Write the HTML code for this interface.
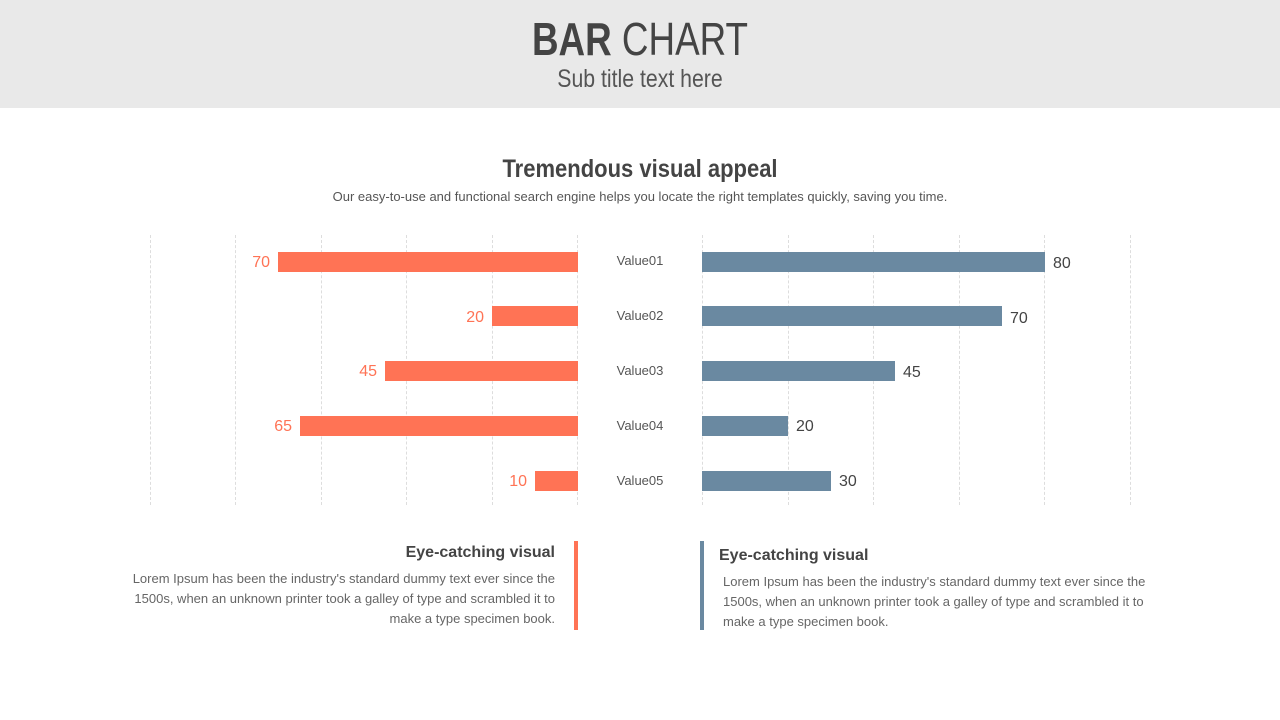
<!DOCTYPE html>
<html><head><meta charset="utf-8"><style>
body{margin:0;width:1280px;height:720px;position:relative;background:#fff;font-family:"Liberation Sans",sans-serif;overflow:hidden;color:#444}
.hdr{position:absolute;left:0;top:0;width:1280px;height:108px;background:#e9e9e9}
.t{position:absolute;width:100%;text-align:center}
.g{position:absolute;top:235px;height:270px;border-left:1px dashed #ddd}
.b{position:absolute;height:20px}
.o{background:#ff7355}.s{background:#6a89a1}
.n{position:absolute;font-size:16px;line-height:20px}
.l{position:absolute;left:590px;width:100px;text-align:center;font-size:13px;color:#555;line-height:20px}
.p{position:absolute;font-size:13px;line-height:20px;color:#666}
</style></head><body>
<div class="hdr"></div>
<div class="t" style="top:12px;font-size:46px;color:#444;transform:scaleX(0.8)"><b>BAR</b> CHART</div>
<div class="t" style="top:65px;font-size:25px;color:#555;transform:scaleX(0.85)">Sub title text here</div>
<div class="t" style="top:155px;font-size:25px;font-weight:bold;color:#444;transform:scaleX(0.88)">Tremendous visual appeal</div>
<div class="t" style="top:189px;font-size:13px;color:#555">Our easy-to-use and functional search engine helps you locate the right templates quickly, saving you time.</div>
<div class="g" style="left:150px"></div><div class="g" style="left:235px"></div><div class="g" style="left:321px"></div><div class="g" style="left:406px"></div><div class="g" style="left:492px"></div><div class="g" style="left:577px"></div>
<div class="g" style="left:702px"></div><div class="g" style="left:788px"></div><div class="g" style="left:873px"></div><div class="g" style="left:959px"></div><div class="g" style="left:1044px"></div><div class="g" style="left:1130px"></div>
<div class="b o" style="left:278px;width:300px;top:252px"></div><div class="n" style="right:1010px;top:253px;color:#ff7355">70</div>
<div class="b o" style="left:492px;width:86px;top:306px"></div><div class="n" style="right:796px;top:308px;color:#ff7355">20</div>
<div class="b o" style="left:385px;width:193px;top:361px"></div><div class="n" style="right:903px;top:362px;color:#ff7355">45</div>
<div class="b o" style="left:300px;width:278px;top:416px"></div><div class="n" style="right:988px;top:417px;color:#ff7355">65</div>
<div class="b o" style="left:535px;width:43px;top:471px"></div><div class="n" style="right:753px;top:472px;color:#ff7355">10</div>
<div class="b s" style="left:702px;width:343px;top:252px"></div><div class="n" style="left:1053px;top:254px">80</div>
<div class="b s" style="left:702px;width:300px;top:306px"></div><div class="n" style="left:1010px;top:309px">70</div>
<div class="b s" style="left:702px;width:193px;top:361px"></div><div class="n" style="left:903px;top:363px">45</div>
<div class="b s" style="left:702px;width:86px;top:416px"></div><div class="n" style="left:796px;top:417px">20</div>
<div class="b s" style="left:702px;width:129px;top:471px"></div><div class="n" style="left:839px;top:472px">30</div>
<div class="l" style="top:251px">Value01</div><div class="l" style="top:306px">Value02</div><div class="l" style="top:361px">Value03</div><div class="l" style="top:416px">Value04</div><div class="l" style="top:471px">Value05</div>
<div style="position:absolute;left:574px;top:541px;width:4px;height:89px;background:#ff7355"></div>
<div style="position:absolute;left:700px;top:541px;width:4px;height:89px;background:#6a89a1"></div>
<div class="p" style="right:725px;top:543px;font-size:16px;font-weight:bold;color:#444">Eye-catching visual</div>
<div class="p" style="right:725px;top:569px;width:450px;text-align:right">Lorem Ipsum has been the industry's standard dummy text ever since the 1500s, when an unknown printer took a galley of type and scrambled it to make a type specimen book.</div>
<div class="p" style="left:719px;top:546px;font-size:16px;font-weight:bold;color:#444">Eye-catching visual</div>
<div class="p" style="left:723px;top:572px;width:440px">Lorem Ipsum has been the industry's standard dummy text ever since the 1500s, when an unknown printer took a galley of type and scrambled it to make a type specimen book.</div>
</body></html>
